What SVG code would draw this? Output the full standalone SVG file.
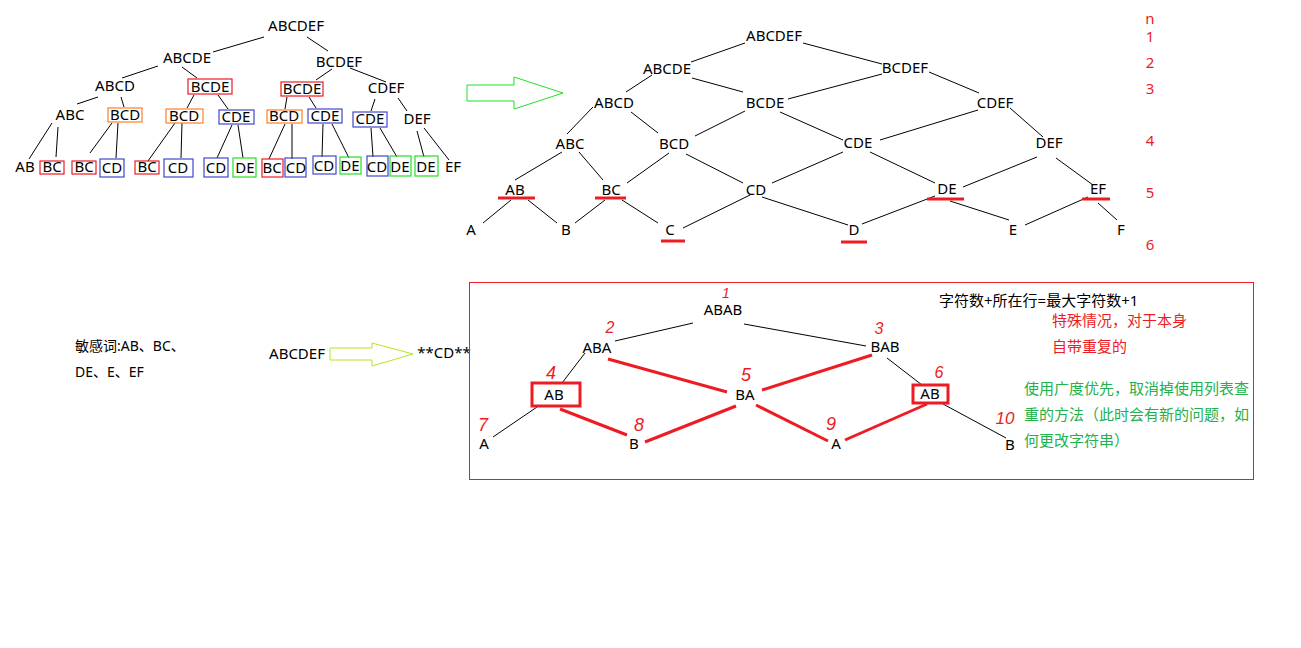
<svg xmlns="http://www.w3.org/2000/svg" width="1301" height="648" viewBox="0 0 1301 648">
<style>
text{font-family:"Noto Sans","Noto Sans CJK SC",sans-serif;font-size:15px;fill:#000;text-anchor:middle}
.ln{stroke:#000;stroke-width:1;fill:none}
.rl{stroke:#ed1c24;stroke-width:3;fill:none}
.bx{fill:none;stroke-width:1.2}
.r{stroke:#ed1c24}.o{stroke:#ff7f27}.b{stroke:#3f48cc}.g{stroke:#22e022}
.ul{stroke:#ed1c24;stroke-width:3}
.red{fill:#ed1c24}
.grn{fill:#22b14c}
.hw{fill:#ed1c24;font-family:"Liberation Sans",sans-serif;font-size:18px;font-style:italic}
.lt{text-anchor:start}
</style>
<rect width="1301" height="648" fill="#fff"/>

<!-- Left tree connectors -->
<g id="left-connectors" class="ln">
<line x1="264" y1="37" x2="213" y2="52"/>
<line x1="307" y1="37" x2="328" y2="51"/>
<line x1="158" y1="66" x2="122" y2="78"/>
<line x1="182" y1="67" x2="197" y2="78"/>
<line x1="332" y1="69" x2="316" y2="80"/>
<line x1="350" y1="68" x2="386" y2="82"/>
<line x1="98" y1="97" x2="77" y2="104"/>
<line x1="121" y1="97" x2="124" y2="107"/>
<line x1="194" y1="95" x2="187" y2="108"/>
<line x1="218" y1="95" x2="228" y2="109"/>
<line x1="287" y1="97" x2="285" y2="109"/>
<line x1="309" y1="97" x2="316" y2="108"/>
<line x1="375" y1="99" x2="371" y2="111"/>
<line x1="398" y1="98" x2="407" y2="111"/>
<line x1="52" y1="123" x2="29" y2="159"/>
<line x1="58" y1="127" x2="56" y2="157"/>
<line x1="112" y1="123" x2="90" y2="153"/>
<line x1="118" y1="123" x2="116" y2="158"/>
<line x1="175" y1="123" x2="148" y2="161"/>
<line x1="182" y1="123" x2="181" y2="158"/>
<line x1="232" y1="125" x2="217" y2="158"/>
<line x1="238" y1="125" x2="243" y2="158"/>
<line x1="285" y1="124" x2="269" y2="159"/>
<line x1="292" y1="124" x2="292" y2="159"/>
<line x1="323" y1="124" x2="322" y2="157"/>
<line x1="332" y1="124" x2="349" y2="158"/>
<line x1="371" y1="128" x2="373" y2="157"/>
<line x1="380" y1="128" x2="397" y2="157"/>
<line x1="417" y1="131" x2="424" y2="157"/>
<line x1="424" y1="128" x2="449" y2="160"/>
</g>

<!-- Left tree nodes -->
<g id="L-ABCDEF"><text x="296" y="31">ABCDEF</text></g>
<g id="L-ABCDE"><text x="187" y="63">ABCDE</text></g>
<g id="L-BCDEF"><text x="339" y="67">BCDEF</text></g>
<g id="L-ABCD"><text x="115" y="91">ABCD</text></g>
<g id="L-BCDE-1"><rect class="bx r" x="188" y="79" width="44" height="15"/><text x="210" y="92">BCDE</text></g>
<g id="L-BCDE-2"><rect class="bx r" x="281" y="82" width="42" height="14"/><text x="302" y="94">BCDE</text></g>
<g id="L-CDEF"><text x="386" y="93">CDEF</text></g>
<g id="L-ABC"><text x="70" y="120">ABC</text></g>
<g id="L-BCD-1"><rect class="bx o" x="108" y="108" width="34" height="14"/><text x="125" y="120">BCD</text></g>
<g id="L-BCD-2"><rect class="bx o" x="166" y="109" width="37" height="14"/><text x="184" y="121">BCD</text></g>
<g id="L-CDE-1"><rect class="bx b" x="219" y="110" width="35" height="14"/><text x="236" y="122">CDE</text></g>
<g id="L-BCD-3"><rect class="bx o" x="267" y="110" width="35" height="13"/><text x="284" y="121">BCD</text></g>
<g id="L-CDE-2"><rect class="bx b" x="308" y="109" width="34" height="14"/><text x="325" y="121">CDE</text></g>
<g id="L-CDE-3"><rect class="bx b" x="353" y="112" width="34" height="15"/><text x="370" y="124">CDE</text></g>
<g id="L-DEF"><text x="417" y="124">DEF</text></g>

<g id="L-AB"><text x="25" y="172">AB</text></g>
<g id="L-BC-1"><rect class="bx r" x="40" y="161" width="24" height="13"/><text x="52" y="172">BC</text></g>
<g id="L-BC-2"><rect class="bx r" x="72" y="161" width="24" height="13"/><text x="84" y="172">BC</text></g>
<g id="L-CD-1"><rect class="bx b" x="100" y="159" width="24" height="18"/><text x="112" y="173">CD</text></g>
<g id="L-BC-3"><rect class="bx r" x="135" y="161" width="24" height="13"/><text x="147" y="172">BC</text></g>
<g id="L-CD-2"><rect class="bx b" x="164" y="159" width="29" height="18"/><text x="178" y="173">CD</text></g>
<g id="L-CD-3"><rect class="bx b" x="204" y="158" width="24" height="19"/><text x="216" y="173">CD</text></g>
<g id="L-DE-1"><rect class="bx g" x="233" y="158" width="23" height="19"/><text x="245" y="173">DE</text></g>
<g id="L-BC-4"><rect class="bx r" x="262" y="159" width="21" height="18"/><text x="272" y="173">BC</text></g>
<g id="L-CD-4"><rect class="bx b" x="285" y="158" width="21" height="19"/><text x="296" y="173">CD</text></g>
<g id="L-CD-5"><rect class="bx b" x="313" y="156" width="23" height="18"/><text x="324" y="171">CD</text></g>
<g id="L-DE-2"><rect class="bx g" x="340" y="157" width="21" height="17"/><text x="350" y="171">DE</text></g>
<g id="L-CD-6"><rect class="bx b" x="367" y="156" width="21" height="20"/><text x="377" y="172">CD</text></g>
<g id="L-DE-3"><rect class="bx g" x="390" y="156" width="21" height="20"/><text x="400" y="172">DE</text></g>
<g id="L-DE-4"><rect class="bx g" x="415" y="156" width="23" height="20"/><text x="426" y="172">DE</text></g>
<g id="L-EF"><text x="453" y="172">EF</text></g>

<!-- Green arrow -->
<g id="arrow-top"><polygon points="467,85 514,85 514,77 563,93 514,109 514,101 467,101" fill="none" stroke="#22e022" stroke-width="1"/></g>

<!-- Right tree connectors -->
<g id="right-connectors" class="ln">
<line x1="745" y1="43" x2="691" y2="62"/>
<line x1="803" y1="43" x2="882" y2="64"/>
<line x1="652" y1="75" x2="626" y2="92"/>
<line x1="692" y1="78" x2="743" y2="92"/>
<line x1="788" y1="99" x2="882" y2="74"/>
<line x1="929" y1="72" x2="979" y2="93"/>
<line x1="593" y1="107" x2="567" y2="134"/>
<line x1="631" y1="112" x2="658" y2="133"/>
<line x1="745" y1="111" x2="695" y2="136"/>
<line x1="780" y1="112" x2="843" y2="140"/>
<line x1="978" y1="110" x2="880" y2="140"/>
<line x1="1010" y1="108" x2="1043" y2="137"/>
<line x1="562" y1="152" x2="515" y2="180"/>
<line x1="579" y1="152" x2="603" y2="180"/>
<line x1="669" y1="153" x2="627" y2="183"/>
<line x1="686" y1="154" x2="743" y2="183"/>
<line x1="772" y1="183" x2="843" y2="152"/>
<line x1="870" y1="152" x2="935" y2="183"/>
<line x1="1037" y1="157" x2="963" y2="187"/>
<line x1="1056" y1="158" x2="1093" y2="185"/>
<line x1="511" y1="200" x2="483" y2="223"/>
<line x1="528" y1="200" x2="557" y2="223"/>
<line x1="605" y1="200" x2="575" y2="223"/>
<line x1="622" y1="200" x2="658" y2="223"/>
<line x1="683" y1="228" x2="750" y2="195"/>
<line x1="762" y1="197" x2="848" y2="225"/>
<line x1="935" y1="196" x2="862" y2="224"/>
<line x1="950" y1="201" x2="1009" y2="220"/>
<line x1="1088" y1="197" x2="1025" y2="225"/>
<line x1="1098" y1="203" x2="1117" y2="220"/>
</g>

<!-- Right tree nodes -->
<g id="R-ABCDEF"><text x="774" y="41">ABCDEF</text></g>
<g id="R-ABCDE"><text x="667" y="74">ABCDE</text></g>
<g id="R-BCDEF"><text x="905" y="73">BCDEF</text></g>
<g id="R-ABCD"><text x="614" y="108">ABCD</text></g>
<g id="R-BCDE"><text x="765" y="108">BCDE</text></g>
<g id="R-CDEF"><text x="995" y="108">CDEF</text></g>
<g id="R-ABC"><text x="570" y="149">ABC</text></g>
<g id="R-BCD"><text x="674" y="149">BCD</text></g>
<g id="R-CDE"><text x="858" y="148">CDE</text></g>
<g id="R-DEF"><text x="1049" y="148">DEF</text></g>
<g id="R-AB"><text x="515" y="195">AB</text><line class="ul" x1="498" y1="198" x2="535" y2="198"/></g>
<g id="R-BC"><text x="611" y="195">BC</text><line class="ul" x1="595" y1="198" x2="626" y2="198"/></g>
<g id="R-CD"><text x="756" y="195">CD</text></g>
<g id="R-DE"><text x="947" y="194">DE</text><line class="ul" x1="927" y1="199" x2="964" y2="199"/></g>
<g id="R-EF"><text x="1098" y="194">EF</text><line class="ul" x1="1082" y1="199" x2="1110" y2="199"/></g>
<g id="R-A"><text x="471" y="235">A</text></g>
<g id="R-B"><text x="566" y="235">B</text></g>
<g id="R-C"><text x="670" y="235">C</text><line class="ul" x1="661" y1="241" x2="685" y2="241"/></g>
<g id="R-D"><text x="854" y="235">D</text><line class="ul" x1="841" y1="242" x2="867" y2="242"/></g>
<g id="R-E"><text x="1013" y="235">E</text></g>
<g id="R-F"><text x="1121" y="235">F</text></g>

<!-- Row numbers -->
<g id="row-numbers">
<text x="1150" y="24" class="red">n</text>
<text x="1150" y="42" class="red">1</text>
<text x="1150" y="68" class="red">2</text>
<text x="1150" y="94" class="red">3</text>
<text x="1150" y="146" class="red">4</text>
<text x="1150" y="198" class="red">5</text>
<text x="1150" y="250" class="red">6</text>
</g>

<!-- Sensitive words -->
<g id="sensitive">
<text x="75" y="351" class="lt" style="font-size:14px">敏感词:AB、BC、</text>
<text x="75" y="377" class="lt" style="font-size:14px">DE、E、EF</text>
</g>
<g id="input"><text x="297" y="359">ABCDEF</text></g>
<g id="arrow-bottom"><polygon points="330,348 372,348 372,343 413,354 372,366 372,360 330,360" fill="none" stroke="#b5e61d" stroke-width="1"/></g>
<g id="output"><text x="444" y="358">**CD**</text></g>

<!-- Bottom frame -->
<rect x="469.5" y="282.5" width="784" height="197" fill="none" stroke="#ed1c24" stroke-width="1"/>

<!-- Bottom connectors -->
<g id="bottom-connectors">
<line class="ln" x1="693" y1="323" x2="615" y2="341"/>
<line class="ln" x1="744" y1="324" x2="866" y2="346"/>
<line class="ln" x1="585" y1="353" x2="562" y2="383"/>
<line class="ln" x1="887" y1="358" x2="922" y2="385"/>
<line class="ln" x1="537" y1="407" x2="493" y2="437"/>
<line class="ln" x1="943" y1="404" x2="1006" y2="438"/>
<line class="rl" x1="608" y1="359" x2="727" y2="392"/>
<line class="rl" x1="762" y1="390" x2="872" y2="355"/>
<line class="rl" x1="560" y1="409" x2="627" y2="435"/>
<line class="rl" x1="645" y1="442" x2="736" y2="406"/>
<line class="rl" x1="756" y1="405" x2="828" y2="441"/>
<line class="rl" x1="845" y1="440" x2="927" y2="404"/>
</g>

<!-- Bottom nodes -->
<g id="B-ABAB"><text x="723" y="315">ABAB</text></g>
<g id="B-ABA"><text x="597" y="353">ABA</text></g>
<g id="B-BAB"><text x="885" y="352">BAB</text></g>
<g id="B-AB-1"><rect x="532" y="383" width="48" height="23" fill="none" stroke="#ed1c24" stroke-width="3"/><text x="554" y="400">AB</text></g>
<g id="B-BA"><text x="745" y="400">BA</text></g>
<g id="B-AB-2"><rect x="913" y="385" width="35" height="18" fill="none" stroke="#ed1c24" stroke-width="3"/><text x="930" y="399">AB</text></g>
<g id="B-A-1"><text x="484" y="449">A</text></g>
<g id="B-B-1"><text x="634" y="449">B</text></g>
<g id="B-A-2"><text x="836" y="449">A</text></g>
<g id="B-B-2"><text x="1010" y="450">B</text></g>

<!-- Handwritten order numbers -->
<g id="order-numbers">
<text class="hw" x="726" y="298" style="font-size:14px">1</text>
<text class="hw" x="610" y="333" style="font-size:16px">2</text>
<text class="hw" x="879" y="334" style="font-size:16px">3</text>
<text class="hw" x="551" y="379">4</text>
<text class="hw" x="746" y="381">5</text>
<text class="hw" x="939" y="378" style="font-size:16px">6</text>
<text class="hw" x="483" y="431">7</text>
<text class="hw" x="639" y="431">8</text>
<text class="hw" x="831" y="430">9</text>
<text class="hw" x="1005" y="424" style="font-size:17px">10</text>
</g>

<!-- Notes -->
<g id="notes">
<text x="939" y="306" class="lt">字符数+所在行=最大字符数+1</text>
<text x="1052" y="326" class="lt red">特殊情况，对于本身</text>
<text x="1052" y="352" class="lt red">自带重复的</text>
<text x="1024" y="394" class="lt grn">使用广度优先，取消掉使用列表查</text>
<text x="1024" y="420" class="lt grn">重的方法（此时会有新的问题，如</text>
<text x="1024" y="446" class="lt grn">何更改字符串）</text>
</g>
</svg>
